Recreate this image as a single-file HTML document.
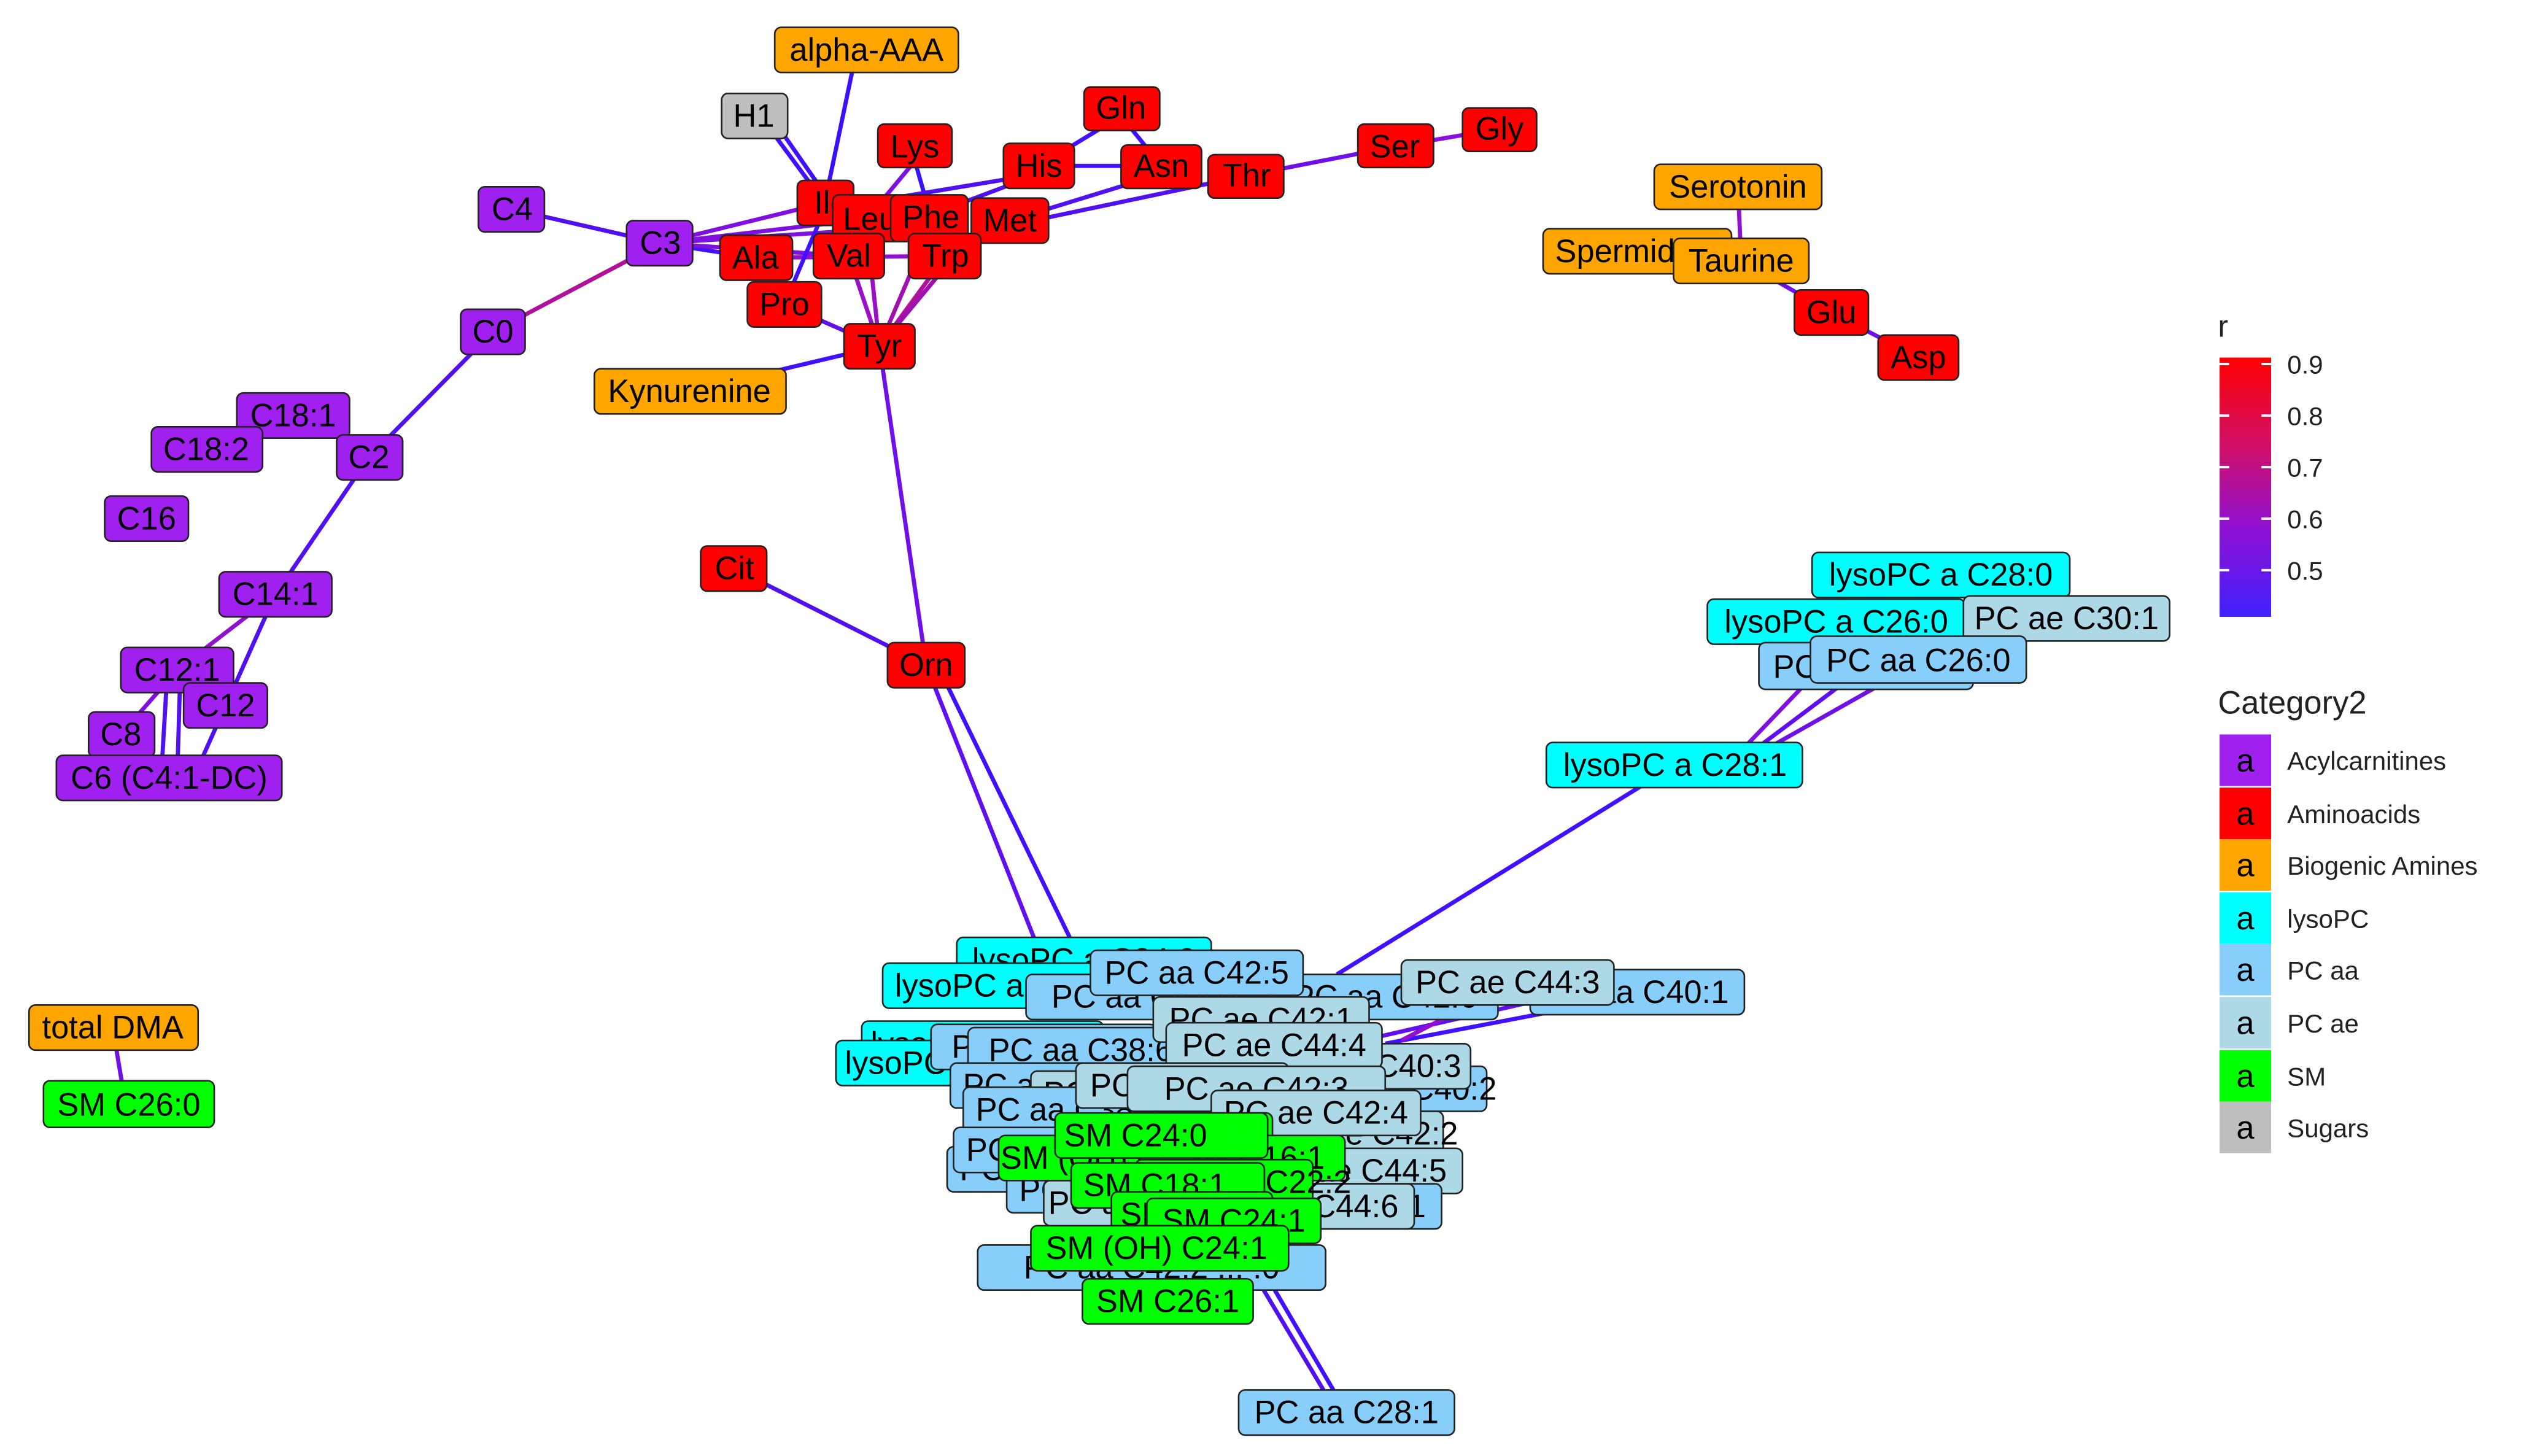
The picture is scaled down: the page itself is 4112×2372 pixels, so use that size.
<!DOCTYPE html>
<html><head><meta charset="utf-8"><style>
html,body{margin:0;padding:0;background:#fff}
svg{display:block}
text{font-family:"Liberation Sans",Arial,sans-serif}
.n text{font-size:20px;fill:#000;text-anchor:middle;dominant-baseline:central}
.n rect{stroke:#222;stroke-width:1}
.e line{stroke-width:2.6;fill:none}
.lg{font-size:16px;fill:#222}
</style></head><body>
<svg width="4112" height="2372" viewBox="0 0 1567 904" preserveAspectRatio="none" xmlns="http://www.w3.org/2000/svg">
<defs><linearGradient id="g" x1="0" y1="0" x2="0" y2="1">
<stop offset="0" stop-color="#ff0000"/><stop offset="0.35" stop-color="#d0106a"/><stop offset="0.65" stop-color="#9010d0"/><stop offset="1" stop-color="#4020ff"/></linearGradient></defs>
<g class="e">
<line x1="530" y1="40" x2="512" y2="126" stroke="#3a10ff"/>
<line x1="478" y1="80" x2="512" y2="126" stroke="#4010ff"/>
<line x1="484" y1="80" x2="516" y2="126" stroke="#4010ff"/>
<line x1="568" y1="100" x2="538" y2="136" stroke="#8010e0"/>
<line x1="568" y1="100" x2="578" y2="135" stroke="#3a10ff"/>
<line x1="696" y1="72" x2="645" y2="103" stroke="#4010ff"/>
<line x1="696" y1="72" x2="721" y2="103" stroke="#4010ff"/>
<line x1="645" y1="103" x2="721" y2="103" stroke="#4010ff"/>
<line x1="645" y1="108" x2="512" y2="130" stroke="#5010f0"/>
<line x1="645" y1="108" x2="560" y2="140" stroke="#5010f0"/>
<line x1="721" y1="108" x2="627" y2="137" stroke="#5010f0"/>
<line x1="774" y1="109" x2="627" y2="140" stroke="#5010f0"/>
<line x1="866" y1="91" x2="774" y2="109" stroke="#7010e8"/>
<line x1="931" y1="80" x2="866" y2="91" stroke="#8a10e0"/>
<line x1="318" y1="130" x2="410" y2="151" stroke="#5010f0"/>
<line x1="410" y1="151" x2="512" y2="126" stroke="#8010e0"/>
<line x1="410" y1="151" x2="538" y2="136" stroke="#8010e0"/>
<line x1="410" y1="151" x2="469" y2="160" stroke="#4010ff"/>
<line x1="410" y1="151" x2="527" y2="159" stroke="#8010e0"/>
<line x1="410" y1="151" x2="578" y2="140" stroke="#8010e0"/>
<line x1="469" y1="160" x2="587" y2="159" stroke="#9010d0"/>
<line x1="410" y1="151" x2="306" y2="206" stroke="#b0109a"/>
<line x1="306" y1="206" x2="229" y2="284" stroke="#5010f0"/>
<line x1="229" y1="284" x2="171" y2="369" stroke="#5010f0"/>
<line x1="171" y1="369" x2="110" y2="416" stroke="#9010d0"/>
<line x1="171" y1="369" x2="120" y2="483" stroke="#5010f0"/>
<line x1="110" y1="416" x2="75" y2="456" stroke="#8010e0"/>
<line x1="104" y1="416" x2="100" y2="483" stroke="#5010f0"/>
<line x1="112" y1="416" x2="110" y2="483" stroke="#5010f0"/>
<line x1="546" y1="215" x2="527" y2="159" stroke="#9a10c8"/>
<line x1="546" y1="215" x2="538" y2="140" stroke="#9a10c8"/>
<line x1="546" y1="215" x2="587" y2="159" stroke="#b0109a"/>
<line x1="546" y1="215" x2="578" y2="140" stroke="#a010b0"/>
<line x1="546" y1="215" x2="600" y2="150" stroke="#a010b0"/>
<line x1="546" y1="215" x2="487" y2="189" stroke="#6010e8"/>
<line x1="546" y1="215" x2="428" y2="243" stroke="#4010ff"/>
<line x1="487" y1="189" x2="512" y2="130" stroke="#4010ff"/>
<line x1="546" y1="215" x2="575" y2="413" stroke="#7010e8"/>
<line x1="456" y1="353" x2="575" y2="413" stroke="#5010f0"/>
<line x1="575" y1="413" x2="645" y2="590" stroke="#6010f0"/>
<line x1="582" y1="413" x2="668" y2="590" stroke="#4010ff"/>
<line x1="1079" y1="116" x2="1081" y2="162" stroke="#9010d0"/>
<line x1="1081" y1="162" x2="1137" y2="194" stroke="#7010e8"/>
<line x1="1137" y1="194" x2="1191" y2="222" stroke="#7010e8"/>
<line x1="1040" y1="475" x2="830" y2="605" stroke="#4010ff"/>
<line x1="1085" y1="462" x2="1130" y2="415" stroke="#8010e0"/>
<line x1="1090" y1="465" x2="1150" y2="420" stroke="#6010f0"/>
<line x1="1095" y1="466" x2="1180" y2="418" stroke="#7010e8"/>
<line x1="70" y1="638" x2="78" y2="686" stroke="#7010e8"/>
<line x1="836" y1="877" x2="785" y2="790" stroke="#4010ff"/>
<line x1="830" y1="877" x2="778" y2="790" stroke="#5010f0"/>
<line x1="960" y1="620" x2="850" y2="645" stroke="#6010f0"/>
<line x1="980" y1="625" x2="860" y2="648" stroke="#4010ff"/>
<line x1="920" y1="620" x2="870" y2="646" stroke="#9010d0"/>
</g>
<g class="n">
<rect x="481" y="17" width="114" height="28" rx="4" fill="#ffa500"/><text x="538" y="31">alpha-AAA</text>
<rect x="448" y="58" width="41" height="28" rx="4" fill="#bebebe"/><text x="468" y="72">H1</text>
<rect x="673" y="54" width="47" height="27" rx="4" fill="#f00"/><text x="696" y="67">Gln</text>
<rect x="545" y="77" width="46" height="27" rx="4" fill="#f00"/><text x="568" y="91">Lys</text>
<rect x="623" y="89" width="44" height="28" rx="4" fill="#f00"/><text x="645" y="103">His</text>
<rect x="696" y="90" width="50" height="27" rx="4" fill="#f00"/><text x="721" y="103">Asn</text>
<rect x="750" y="96" width="47" height="27" rx="4" fill="#f00"/><text x="774" y="109">Thr</text>
<rect x="843" y="77" width="47" height="27" rx="4" fill="#f00"/><text x="866" y="91">Ser</text>
<rect x="908" y="67" width="46" height="27" rx="4" fill="#f00"/><text x="931" y="80">Gly</text>
<rect x="495" y="112" width="35" height="28" rx="4" fill="#f00"/><text x="516" y="126">Ile</text>
<rect x="517" y="121" width="43" height="29" rx="4" fill="#f00"/><text x="540" y="136">Leu</text>
<rect x="553" y="121" width="48" height="29" rx="4" fill="#f00"/><text x="578" y="135">Phe</text>
<rect x="603" y="123" width="48" height="28" rx="4" fill="#f00"/><text x="627" y="137">Met</text>
<rect x="297" y="116" width="41" height="28" rx="4" fill="#a020f0"/><text x="318" y="130">C4</text>
<rect x="389" y="137" width="41" height="28" rx="4" fill="#a020f0"/><text x="410" y="151">C3</text>
<rect x="447" y="146" width="45" height="28" rx="4" fill="#f00"/><text x="469" y="160">Ala</text>
<rect x="505" y="145" width="44" height="28" rx="4" fill="#f00"/><text x="527" y="159">Val</text>
<rect x="564" y="145" width="45" height="28" rx="4" fill="#f00"/><text x="587" y="159">Trp</text>
<rect x="464" y="175" width="46" height="28" rx="4" fill="#f00"/><text x="487" y="189">Pro</text>
<rect x="524" y="201" width="44" height="28" rx="4" fill="#f00"/><text x="546" y="215">Tyr</text>
<rect x="369" y="229" width="119" height="28" rx="4" fill="#ffa500"/><text x="428" y="243">Kynurenine</text>
<rect x="286" y="192" width="40" height="28" rx="4" fill="#a020f0"/><text x="306" y="206">C0</text>
<rect x="147" y="244" width="70" height="28" rx="4" fill="#a020f0"/><text x="182" y="258">C18:1</text>
<rect x="94" y="265" width="69" height="28" rx="4" fill="#a020f0"/><text x="128" y="279">C18:2</text>
<rect x="209" y="270" width="41" height="28" rx="4" fill="#a020f0"/><text x="229" y="284">C2</text>
<rect x="65" y="308" width="52" height="28" rx="4" fill="#a020f0"/><text x="91" y="322">C16</text>
<rect x="136" y="355" width="70" height="28" rx="4" fill="#a020f0"/><text x="171" y="369">C14:1</text>
<rect x="75" y="402" width="70" height="28" rx="4" fill="#a020f0"/><text x="110" y="416">C12:1</text>
<rect x="114" y="424" width="52" height="28" rx="4" fill="#a020f0"/><text x="140" y="438">C12</text>
<rect x="55" y="442" width="41" height="28" rx="4" fill="#a020f0"/><text x="75" y="456">C8</text>
<rect x="35" y="469" width="140" height="28" rx="4" fill="#a020f0"/><text x="105" y="483">C6 (C4:1-DC)</text>
<rect x="1027" y="102" width="104" height="28" rx="4" fill="#ffa500"/><text x="1079" y="116">Serotonin</text>
<rect x="958" y="142" width="117" height="28" rx="4" fill="#ffa500"/><text x="1016" y="156">Spermidine</text>
<rect x="1039" y="148" width="84" height="28" rx="4" fill="#ffa500"/><text x="1081" y="162">Taurine</text>
<rect x="1114" y="180" width="46" height="28" rx="4" fill="#f00"/><text x="1137" y="194">Glu</text>
<rect x="1166" y="208" width="50" height="28" rx="4" fill="#f00"/><text x="1191" y="222">Asp</text>
<rect x="435" y="339" width="41" height="28" rx="4" fill="#f00"/><text x="456" y="353">Cit</text>
<rect x="551" y="399" width="48" height="28" rx="4" fill="#f00"/><text x="575" y="413">Orn</text>
<rect x="1125" y="343" width="160" height="28" rx="4" fill="#00ffff"/><text x="1205" y="357">lysoPC a C28:0</text>
<rect x="1060" y="372" width="160" height="28" rx="4" fill="#00ffff"/><text x="1140" y="386">lysoPC a C26:0</text>
<rect x="1219" y="370" width="128" height="28" rx="4" fill="#add8e6"/><text x="1283" y="384">PC ae C30:1</text>
<rect x="1092" y="399" width="133" height="29" rx="4" fill="#87cefa"/><text x="1158" y="414">PC aa C24:0</text>
<rect x="1124" y="395" width="134" height="29" rx="4" fill="#87cefa"/><text x="1191" y="410">PC aa C26:0</text>
<rect x="960" y="461" width="159" height="28" rx="4" fill="#00ffff"/><text x="1040" y="475">lysoPC a C28:1</text>
<rect x="18" y="624" width="105" height="28" rx="4" fill="#ffa500"/><text x="70" y="638">total DMA</text>
<rect x="27" y="671" width="106" height="29" rx="4" fill="#00ff00"/><text x="80" y="686">SM C26:0</text>
<rect x="769" y="863" width="134" height="28" rx="4" fill="#87cefa"/><text x="836" y="877">PC aa C28:1</text>
<rect x="594" y="582" width="158" height="28" rx="4" fill="#00ffff"/><text x="673" y="596">lysoPC a C24:0</text>
<rect x="548" y="598" width="155" height="28" rx="4" fill="#00ffff"/><text x="625" y="612">lysoPC a C20:4</text>
<rect x="790" y="605" width="140" height="28" rx="4" fill="#87cefa"/><text x="860" y="619">PC aa C42:6</text>
<rect x="950" y="602" width="133" height="28" rx="4" fill="#87cefa"/><text x="1016" y="616">PC aa C40:1</text>
<rect x="870" y="596" width="132" height="28" rx="4" fill="#add8e6"/><text x="936" y="610">PC ae C44:3</text>
<rect x="637" y="605" width="150" height="28" rx="4" fill="#87cefa"/><text x="710" y="619">PC aa C42:0</text>
<rect x="677" y="590" width="132" height="28" rx="4" fill="#87cefa"/><text x="743" y="604">PC aa C42:5</text>
<rect x="535" y="634" width="150" height="28" rx="4" fill="#00ffff"/><text x="610" y="648">lysoPC a C16:0</text>
<rect x="519" y="646" width="150" height="28" rx="4" fill="#00ffff"/><text x="594" y="660">lysoPC a C18:0</text>
<rect x="578" y="636" width="140" height="28" rx="4" fill="#87cefa"/><text x="648" y="650">PC aa C40:6</text>
<rect x="601" y="638" width="140" height="28" rx="4" fill="#87cefa"/><text x="671" y="652">PC aa C38:6</text>
<rect x="716" y="619" width="134" height="28" rx="4" fill="#add8e6"/><text x="783" y="633">PC ae C42:1</text>
<rect x="820" y="662" width="103" height="28" rx="4" fill="#87cefa"/><text x="872" y="676">PC aa C40:2</text>
<rect x="800" y="648" width="113" height="28" rx="4" fill="#add8e6"/><text x="850" y="662">PC ae C40:3</text>
<rect x="724" y="635" width="134" height="28" rx="4" fill="#add8e6"/><text x="791" y="649">PC ae C44:4</text>
<rect x="590" y="660" width="130" height="28" rx="4" fill="#87cefa"/><text x="655" y="674">PC aa C36:6</text>
<rect x="640" y="665" width="130" height="28" rx="4" fill="#add8e6"/><text x="705" y="679">PC ae C40:6</text>
<rect x="598" y="675" width="130" height="28" rx="4" fill="#87cefa"/><text x="663" y="689">PC aa C38:5</text>
<rect x="668" y="660" width="132" height="28" rx="4" fill="#add8e6"/><text x="734" y="674">PC ae C42:2</text>
<rect x="700" y="662" width="160" height="28" rx="4" fill="#add8e6"/><text x="780" y="676">PC ae C42:3</text>
<rect x="800" y="690" width="96" height="28" rx="4" fill="#add8e6"/><text x="848" y="704">PC ae C42:2</text>
<rect x="752" y="677" width="130" height="28" rx="4" fill="#add8e6"/><text x="817" y="691">PC ae C42:4</text>
<rect x="775" y="713" width="133" height="28" rx="4" fill="#add8e6"/><text x="841" y="727">PC ae C44:5</text>
<rect x="588" y="712" width="130" height="28" rx="4" fill="#87cefa"/><text x="653" y="726">PC aa C36:5</text>
<rect x="592" y="700" width="130" height="28" rx="4" fill="#87cefa"/><text x="657" y="714">PC aa C38:4</text>
<rect x="625" y="725" width="130" height="28" rx="4" fill="#87cefa"/><text x="690" y="739">PC aa C40:5</text>
<rect x="760" y="735" width="135" height="28" rx="4" fill="#87cefa"/><text x="828" y="749">PC aa C42:1</text>
<rect x="745" y="735" width="133" height="28" rx="4" fill="#add8e6"/><text x="811" y="749">PC ae C44:6</text>
<rect x="648" y="733" width="120" height="28" rx="4" fill="#add8e6"/><text x="708" y="747">PC ae C40:5</text>
<rect x="700" y="691" width="90" height="28" rx="4" fill="#00ff00"/><text x="745" y="705">SM C16:1</text>
<rect x="620" y="705" width="140" height="28" rx="4" fill="#00ff00"/><text x="690" y="719">SM (OH) C14:1</text>
<rect x="720" y="705" width="115" height="28" rx="4" fill="#00ff00"/><text x="778" y="719">SM C16:1</text>
<rect x="655" y="691" width="132" height="28" rx="4" fill="#00ff00"/><text x="705" y="705">SM C24:0</text>
<rect x="705" y="720" width="110" height="28" rx="4" fill="#00ff00"/><text x="770" y="734">SM (OH) C22:2</text>
<rect x="665" y="722" width="120" height="28" rx="4" fill="#00ff00"/><text x="717" y="736">SM C18:1</text>
<rect x="607" y="773" width="216" height="28" rx="4" fill="#87cefa"/><text x="715" y="787">PC aa C42:2 ... :0</text>
<rect x="690" y="740" width="100" height="28" rx="4" fill="#00ff00"/><text x="740" y="754">SM C18:0</text>
<rect x="712" y="744" width="108" height="28" rx="4" fill="#00ff00"/><text x="766" y="758">SM C24:1</text>
<rect x="640" y="761" width="160" height="28" rx="4" fill="#00ff00"/><text x="718" y="775">SM (OH) C24:1</text>
<rect x="672" y="794" width="106" height="28" rx="4" fill="#00ff00"/><text x="725" y="808">SM C26:1</text>
</g>
<text x="1377" y="209" style="font-size:19px" fill="#222">r</text>
<rect x="1378" y="222" width="32" height="161" fill="url(#g)"/>
<g class="lg">
<text x="1420" y="232">0.9</text><text x="1420" y="264">0.8</text><text x="1420" y="296">0.7</text><text x="1420" y="328">0.6</text><text x="1420" y="360">0.5</text>
</g>
<g stroke="#fff" stroke-width="1.5"><line x1="1378" y1="226" x2="1384" y2="226"/><line x1="1404" y1="226" x2="1410" y2="226"/><line x1="1378" y1="258" x2="1384" y2="258"/><line x1="1404" y1="258" x2="1410" y2="258"/><line x1="1378" y1="290" x2="1384" y2="290"/><line x1="1404" y1="290" x2="1410" y2="290"/><line x1="1378" y1="322" x2="1384" y2="322"/><line x1="1404" y1="322" x2="1410" y2="322"/><line x1="1378" y1="354" x2="1384" y2="354"/><line x1="1404" y1="354" x2="1410" y2="354"/></g>
<text x="1377" y="443" style="font-size:20px" fill="#222">Category2</text>
<g>
<rect x="1378" y="456" width="32" height="32" fill="#a020f0"/>
<rect x="1378" y="489" width="32" height="32" fill="#f00"/>
<rect x="1378" y="521" width="32" height="32" fill="#ffa500"/>
<rect x="1378" y="554" width="32" height="32" fill="#00ffff"/>
<rect x="1378" y="586" width="32" height="32" fill="#87cefa"/>
<rect x="1378" y="619" width="32" height="32" fill="#add8e6"/>
<rect x="1378" y="652" width="32" height="32" fill="#00ff00"/>
<rect x="1378" y="684" width="32" height="32" fill="#bebebe"/>
</g>
<g style="font-size:20px" text-anchor="middle" fill="#000">
<text x="1394" y="479">a</text><text x="1394" y="512">a</text><text x="1394" y="544">a</text><text x="1394" y="577">a</text><text x="1394" y="609">a</text><text x="1394" y="642">a</text><text x="1394" y="675">a</text><text x="1394" y="707">a</text>
</g>
<g class="lg">
<text x="1420" y="478">Acylcarnitines</text><text x="1420" y="511">Aminoacids</text><text x="1420" y="543">Biogenic Amines</text><text x="1420" y="576">lysoPC</text><text x="1420" y="608">PC aa</text><text x="1420" y="641">PC ae</text><text x="1420" y="674">SM</text><text x="1420" y="706">Sugars</text>
</g>
</svg>
</body></html>
